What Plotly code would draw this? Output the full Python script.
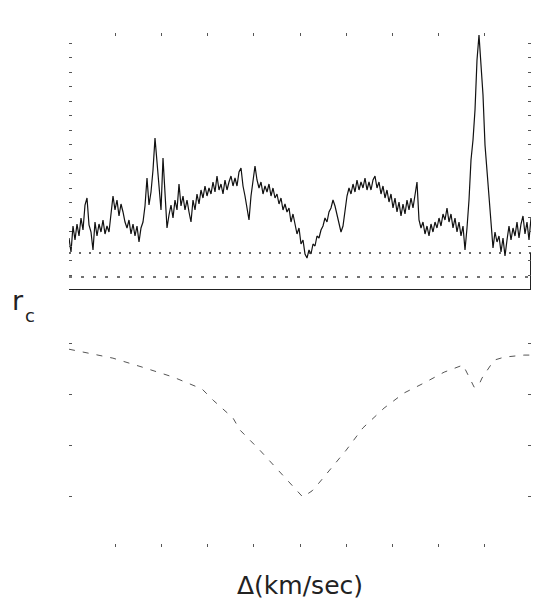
import numpy as np
import plotly.graph_objects as go

# Normalised spectrum sampled on a uniform velocity grid (km/s)
flux = [
    0.52, 0.38, 0.64, 0.50, 0.66, 0.54, 0.72, 0.60, 0.85, 0.92,
    0.65, 0.58, 0.40, 0.68, 0.54, 0.66, 0.58, 0.70, 0.56, 0.64,
    0.58, 0.76, 0.94, 0.80, 0.90, 0.74, 0.86, 0.78, 0.68, 0.62,
    0.70, 0.56, 0.66, 0.54, 0.64, 0.48, 0.62, 0.68, 0.84, 1.12,
    0.85, 0.98, 1.20, 1.52, 1.28, 1.08, 0.80, 1.32, 0.92, 0.62,
    0.75, 0.85, 0.72, 0.90, 0.80, 1.06, 0.84, 0.94, 0.80, 0.90,
    0.78, 0.68, 0.90, 0.80, 0.96, 0.86, 1.00, 0.92, 1.04, 0.94,
    1.02, 0.96, 1.08, 0.98, 1.14, 1.00, 1.06, 0.96, 1.10, 1.00,
    1.08, 1.14, 1.04, 1.12, 1.04, 1.18, 1.22, 1.04, 0.94, 0.80,
    0.70, 0.94, 1.10, 1.24, 1.10, 1.02, 1.08, 0.96, 1.04, 0.98,
    1.06, 0.94, 1.02, 0.92, 0.96, 0.86, 0.92, 0.80, 0.86, 0.78,
    0.82, 0.68, 0.76, 0.66, 0.56, 0.62, 0.46, 0.50, 0.36, 0.32,
    0.40, 0.36, 0.46, 0.44, 0.54, 0.52, 0.60, 0.64, 0.72, 0.68,
    0.78, 0.82, 0.90, 0.84, 0.76, 0.66, 0.58, 0.64, 0.78, 0.94,
    1.02, 0.96, 1.06, 0.98, 1.10, 1.00, 1.08, 1.02, 1.12, 1.00,
    1.08, 1.00, 1.10, 1.14, 1.02, 1.08, 0.96, 1.04, 0.92, 1.00,
    0.88, 0.96, 0.82, 0.92, 0.78, 0.88, 0.74, 0.86, 0.76, 0.90,
    0.80, 0.92, 0.82, 0.98, 1.08, 0.70, 0.62, 0.68, 0.56, 0.64,
    0.54, 0.66, 0.58, 0.68, 0.62, 0.72, 0.64, 0.76, 0.70, 0.82,
    0.68, 0.76, 0.62, 0.72, 0.58, 0.68, 0.54, 0.64, 0.40, 0.62,
    0.90, 1.30, 1.50, 1.80, 2.30, 2.55, 2.20, 1.95, 1.45, 1.18,
    0.90, 0.65, 0.42, 0.58, 0.48, 0.54, 0.38, 0.52, 0.34, 0.50,
    0.64, 0.50, 0.62, 0.54, 0.68, 0.52, 0.66, 0.74, 0.56, 0.68, 0.50, 0.72,
]
vel_min, vel_max = -500, 500
velocity = np.linspace(vel_min, vel_max, len(flux))

# Reference levels in the spectrum panel
upper_level = 0.37
lower_level = 0.13
base_level = 0.0

# Cross-correlation coefficient r_c against velocity shift
ccf_vel = [-500, -481, -442, -405, -342, -275, -212, -188, -145, -130, -87,
           -32, 6, 26, 41, 100, 136, 182, 225, 268, 312, 353, 366, 377,
           387, 394, 420, 442, 485, 500]
ccf_r = [0.776, 0.769, 0.753, 0.741, 0.706, 0.667, 0.620, 0.576, 0.506,
         0.459, 0.380, 0.271, 0.196, 0.220, 0.251, 0.380, 0.467, 0.545,
         0.604, 0.643, 0.686, 0.714, 0.667, 0.627, 0.635, 0.663, 0.733,
         0.745, 0.753, 0.753]

vel_ticks = [-400, -300, -200, -100, 0, 100, 200, 300, 400]
r_ticks = [0.0, 0.2, 0.4, 0.6, 0.8]

fig = go.Figure()

# spectrum
fig.add_trace(go.Scatter(x=velocity, y=flux, mode="lines",
                         line=dict(color="#111", width=1.2), xaxis="x", yaxis="y"))
# dotted reference levels
fig.add_trace(go.Scatter(x=[vel_min, vel_max], y=[upper_level, upper_level], mode="lines",
                         line=dict(color="#333", width=1.5, dash="2px,8px"),
                         xaxis="x", yaxis="y"))
fig.add_trace(go.Scatter(x=[vel_min, vel_max], y=[lower_level, lower_level], mode="lines",
                         line=dict(color="#444", width=1.5, dash="3px,9px"),
                         xaxis="x", yaxis="y"))
# solid base line and right edge segment
fig.add_trace(go.Scatter(x=[vel_min, vel_max, vel_max], y=[base_level, base_level, upper_level],
                         mode="lines", line=dict(color="#222", width=2),
                         xaxis="x", yaxis="y"))

# correlation curve
fig.add_trace(go.Scatter(x=ccf_vel, y=ccf_r, mode="lines",
                         line=dict(color="#555", width=1, dash="6px,8px"),
                         xaxis="x2", yaxis="y2"))

W, H = 542, 609
x_dom = [69 / W, 531 / W]
axis_common = dict(showgrid=False, zeroline=False, showticklabels=False,
                   ticks="inside", ticklen=3, tickcolor="#555", tickwidth=1,
                   showline=True, linecolor="rgba(0,0,0,0)")

fig.update_layout(
    width=W, height=H,
    margin=dict(l=0, r=0, t=0, b=0),
    paper_bgcolor="white", plot_bgcolor="white",
    showlegend=False,
    xaxis=dict(domain=x_dom, range=[vel_min, vel_max], side="top",
               tickvals=vel_ticks, anchor="y", **axis_common),
    yaxis=dict(domain=[1 - 290 / H, 1 - 33 / H], range=[0, 2.57],
               tick0=0.005, dtick=0.145, mirror="ticks", anchor="x", **axis_common),
    xaxis2=dict(domain=x_dom, range=[vel_min, vel_max],
                tickvals=vel_ticks, anchor="y2", **axis_common),
    yaxis2=dict(domain=[1 - 547 / H, 1 - 338 / H], range=[0, 0.82],
                tickvals=r_ticks, mirror="ticks", anchor="x2", **axis_common),
)

font = "DejaVu Sans"
fig.add_annotation(text="r", xref="paper", yref="paper", x=10 / W, y=1 - 318 / H,
                   xanchor="left", yanchor="bottom", showarrow=False,
                   font=dict(family=font, size=27, color="#222"))
fig.add_annotation(text="c", xref="paper", yref="paper", x=23 / W, y=1 - 328 / H,
                   xanchor="left", yanchor="bottom", showarrow=False,
                   font=dict(family=font, size=18, color="#222"))
fig.add_annotation(text="Δ(km/sec)", xref="paper", yref="paper", x=300 / W, y=1 - 585 / H,
                   xanchor="center", yanchor="middle", showarrow=False,
                   font=dict(family=font, size=25, color="#222"))

fig.write_html("out.html")
